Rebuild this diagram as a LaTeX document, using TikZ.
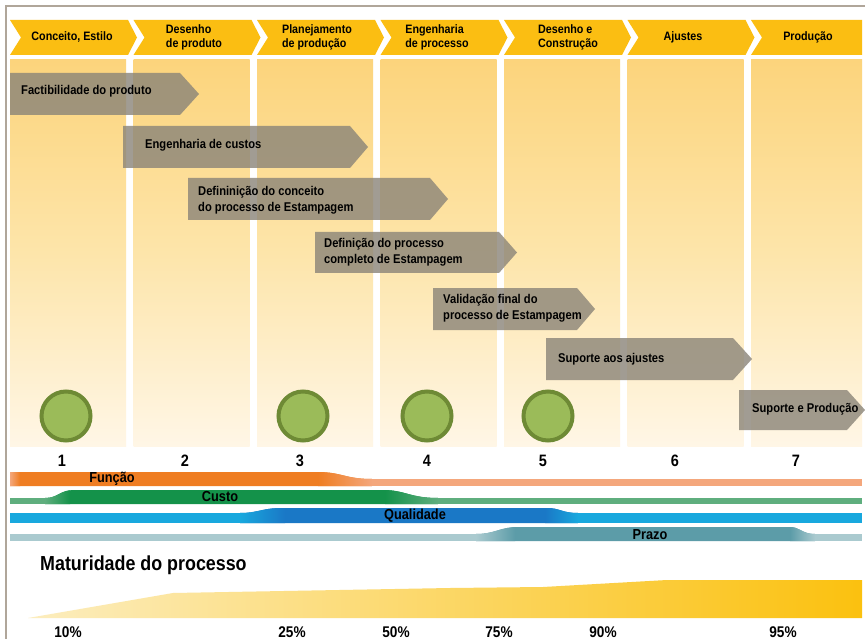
\documentclass[tikz,border=0pt]{standalone}
\usepackage{fontspec}
\setmainfont{Liberation Sans}[FakeStretch=0.88]
\definecolor{framegray}{HTML}{B0A69A}
\definecolor{hdryellow}{HTML}{FBBE12}
\definecolor{coltop}{HTML}{FCD47C}
\definecolor{colmid}{HTML}{FDE5AA}
\definecolor{colbot}{HTML}{FFF6E6}
\definecolor{taskgray}{HTML}{8A8478}
\definecolor{dotfill}{HTML}{9BBB59}
\definecolor{dotline}{HTML}{6E8A35}
\definecolor{funthick}{HTML}{EF7D22}
\definecolor{funthin}{HTML}{F4A77C}
\definecolor{custhick}{HTML}{14924A}
\definecolor{custhin}{HTML}{5FAE7E}
\definecolor{qualthick}{HTML}{1A78C6}
\definecolor{qualthin}{HTML}{18A8DE}
\definecolor{prazthick}{HTML}{5C9CA8}
\definecolor{prazthin}{HTML}{AACACF}
\definecolor{matleft}{HTML}{FCEDBE}
\definecolor{matright}{HTML}{FBC10F}
\begin{document}
\begin{tikzpicture}[x=1pt,y=-1pt,
  hdrtext/.style={font=\bfseries\fontsize{12.2}{13.5}\selectfont, align=left, inner sep=0pt},
  tasktext/.style={font=\bfseries\fontsize{12.7}{16.5}\selectfont, align=left, anchor=west, inner sep=0pt},
  taskbar/.style={fill=taskgray, fill opacity=0.8},
  stagedot/.style={circle, fill=dotfill, draw=dotline, line width=4pt, minimum size=49pt, inner sep=0pt},
  stagenum/.style={font=\bfseries\fontsize{16.5}{16.5}\selectfont, inner sep=0pt},
  bandtext/.style={font=\bfseries\fontsize{14.5}{14.5}\selectfont, inner sep=0pt},
  pcttext/.style={font=\bfseries\fontsize{15.5}{15.5}\selectfont, inner sep=0pt}]
\useasboundingbox (0,0) rectangle (865,639);
\fill[white] (0,0) rectangle (865,639);

% frame
\draw[framegray, line width=1.4pt] (6,639) -- (6,6) -- (865,6);

% phase columns
\foreach \i in {0,...,5} {
  \pgfmathsetmacro\L{10+123.5*\i}
  \shade[top color=coltop, bottom color=colbot, middle color=colmid] (\L,60) rectangle (\L+116,446);
}
\shade[top color=coltop, bottom color=colbot, middle color=colmid] (751,60) rectangle (862,446);

% header chevrons
\foreach \i in {0,...,5} {
  \pgfmathsetmacro\L{10+123.5*\i}
  \fill[hdryellow] (\L,20) -- (\L+118,20) -- (\L+127,37.5) -- (\L+118,55) -- (\L,55) -- (\L+11,37.5) -- cycle;
}
\fill[hdryellow] (751,20) -- (862,20) -- (862,55) -- (751,55) -- (762,37.5) -- cycle;

\node[hdrtext] (h1) at (72,37.5) {Conceito, Estilo};
\node[hdrtext] (h2) at (194,37.5) {Desenho\\de produto};
\node[hdrtext] (h3) at (317,37.5) {Planejamento\\de produção};
\node[hdrtext] (h4) at (437,37.5) {Engenharia\\de processo};
\node[hdrtext] (h5) at (568,37.5) {Desenho e\\Construção};
\node[hdrtext] (h6) at (683,37.5) {Ajustes};
\node[hdrtext] (h7) at (808,37.5) {Produção};

% activity arrows
\fill[taskbar] (10,73) -- (180,73) -- (199,94) -- (180,115) -- (10,115) -- cycle;
\node[tasktext] (t1) at (21,91) {Factibilidade do produto};
\fill[taskbar] (123,126) -- (350,126) -- (368,147) -- (350,168) -- (123,168) -- cycle;
\node[tasktext] (t2) at (145,145) {Engenharia de custos};
\fill[taskbar] (188,178) -- (430,178) -- (448,199) -- (430,220) -- (188,220) -- cycle;
\node[tasktext] (t3) at (198,200) {Defininição do conceito\\do processo de Estampagem};
\fill[taskbar] (315,232) -- (499,232) -- (517,252.5) -- (499,273) -- (315,273) -- cycle;
\node[tasktext] (t4) at (324,252) {Definição do processo\\completo de Estampagem};
\fill[taskbar] (433,288) -- (577,288) -- (595,309) -- (577,330) -- (433,330) -- cycle;
\node[tasktext] (t5) at (443,308) {Validação final do\\processo de Estampagem};
\fill[taskbar] (546,338) -- (733,338) -- (752,359) -- (733,380) -- (546,380) -- cycle;
\node[tasktext] (t6) at (558,359) {Suporte aos ajustes};
\fill[taskbar] (739,390) -- (847,390) -- (865,410) -- (847,430) -- (739,430) -- cycle;
\node[tasktext] (t7) at (752,409) {Suporte e Produção};

% milestones
\node[stagedot] (m1) at (66,416) {};
\node[stagedot] (m3) at (303,416) {};
\node[stagedot] (m4) at (427,416) {};
\node[stagedot] (m5) at (548,416) {};

% stage numbers
\node[stagenum] (n1) at (62,461) {1};
\node[stagenum] (n2) at (185,461) {2};
\node[stagenum] (n3) at (300,461) {3};
\node[stagenum] (n4) at (427,461) {4};
\node[stagenum] (n5) at (543,461) {5};
\node[stagenum] (n6) at (675,461) {6};
\node[stagenum] (n7) at (796,461) {7};

% emphasis bands: thin base line, thick swell blending in and out
\fill[funthin] (10,479) rectangle (862,486);
\begin{scope}
  \clip (10,472) -- (317,472) .. controls (342,472) and (345,479) .. (372,479) -- (372,486) -- (10,486) -- cycle;
  \fill[funthick] (10,470) rectangle (372,488);
  \shade[left color=funthin, right color=funthick] (10,470) rectangle (20,488);
  \shade[left color=funthick, right color=funthin] (318,470) rectangle (372,488);
\end{scope}
\node[bandtext] (b1) at (112,478.5) {Função};

\fill[custhin] (10,498) rectangle (862,504);
\begin{scope}
  \clip (45,498) .. controls (58,498) and (60,490) .. (74,490) -- (383,490) .. controls (405,490) and (410,498) .. (438,498) -- (438,504) -- (45,504) -- cycle;
  \fill[custhick] (45,488) rectangle (438,506);
  \shade[left color=custhin, right color=custhick] (45,488) rectangle (70,506);
  \shade[left color=custhick, right color=custhin] (385,488) rectangle (438,506);
\end{scope}
\node[bandtext] (b2) at (220,497) {Custo};

\fill[qualthin] (10,513) rectangle (862,523);
\begin{scope}
  \clip (240,513) .. controls (258,513) and (262,508) .. (282,508) -- (547,508) .. controls (560,508) and (562,513) .. (578,513) -- (578,523) -- (240,523) -- cycle;
  \fill[qualthick] (240,506) rectangle (578,525);
  \shade[left color=qualthin, right color=qualthick] (240,506) rectangle (285,525);
  \shade[left color=qualthick, right color=qualthin] (545,506) rectangle (578,525);
\end{scope}
\node[bandtext] (b3) at (415,516) {Qualidade};

\fill[prazthin] (10,534) rectangle (862,541);
\begin{scope}
  \clip (476,534) .. controls (495,534) and (500,527) .. (518,527) -- (790,527) .. controls (800,527) and (802,534) .. (815,534) -- (815,541) -- (476,541) -- cycle;
  \fill[prazthick] (476,525) rectangle (815,543);
  \shade[left color=prazthin, right color=prazthick] (476,525) rectangle (515,543);
  \shade[left color=prazthick, right color=prazthin] (790,525) rectangle (815,543);
\end{scope}
\node[bandtext] (b4) at (650,535) {Prazo};

% process maturity
\node[font=\bfseries\fontsize{20.3}{20.3}\selectfont, anchor=west, inner sep=0pt] (mat) at (40,565) {Maturidade do processo};
\shade[left color=matleft, right color=matright] (28,618) -- (173,593) -- (450,588) -- (543,587) -- (667,580) -- (862,580) -- (862,618) -- cycle;

\node[pcttext] (p1) at (68,632) {10\%};
\node[pcttext] (p2) at (292,632) {25\%};
\node[pcttext] (p3) at (396,632) {50\%};
\node[pcttext] (p4) at (499,632) {75\%};
\node[pcttext] (p5) at (603,632) {90\%};
\node[pcttext] (p6) at (783,632) {95\%};
\end{tikzpicture}
\end{document}
